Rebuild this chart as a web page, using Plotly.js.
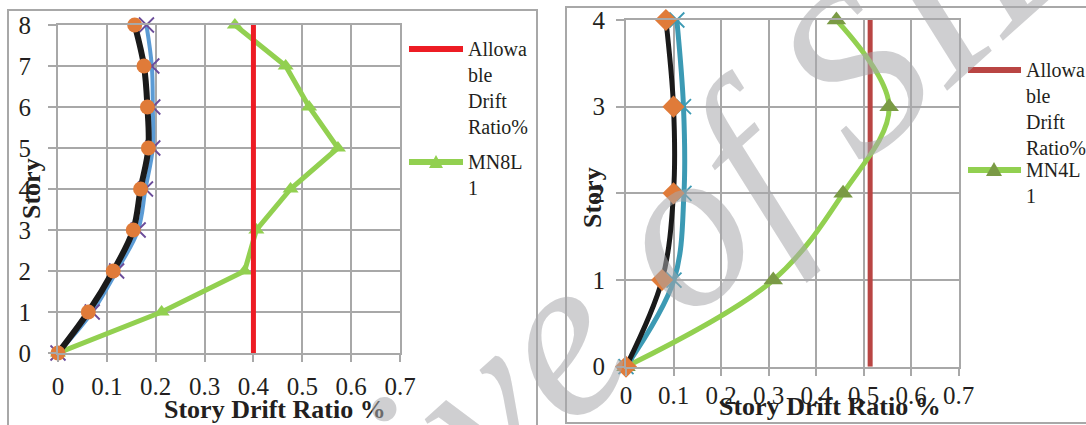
<!DOCTYPE html>
<html><head><meta charset="utf-8">
<script src="https://cdn.plot.ly/plotly-3.0.1.min.js"></script>
<style>html,body{margin:0;padding:0;background:#fff;} #chart{width:1086px;height:425px;}</style>
</head><body><div id="chart"></div>
<script>
// ---- data: 8-storey model (left) ----
const stories8 = [0, 1, 2, 3, 4, 5, 6, 7, 8];
const mn8Black = [0, 0.062, 0.113, 0.154, 0.169, 0.185, 0.183, 0.176, 0.157];
const mn8Blue  = [0, 0.070, 0.120, 0.164, 0.179, 0.194, 0.194, 0.192, 0.181];
const mn8L1    = [0, 0.212, 0.382, 0.406, 0.476, 0.573, 0.514, 0.466, 0.362];
const allow8   = 0.4;
// ---- data: 4-storey model (right) ----
const stories4 = [0, 1, 2, 3, 4];
const mn4Black = [0, 0.076, 0.100, 0.100, 0.084];
const mn4Teal  = [0, 0.101, 0.122, 0.121, 0.107];
const mn4L1    = [0, 0.310, 0.457, 0.554, 0.443];
const allow4   = 0.514;
// ---- tick labels ----
const xTicks = [0, 0.1, 0.2, 0.3, 0.4, 0.5, 0.6, 0.7];
const xTickText = ['0', '0.1', '0.2', '0.3', '0.4', '0.5', '0.6', '0.7'];
const yTicks8 = [0, 1, 2, 3, 4, 5, 6, 7, 8];
const yTicks4 = [0, 1, 2, 3, 4];
const legendAllow = 'Allowa<br>ble<br>Drift<br>Ratio%';
const legend8 = 'MN8L<br>1';
const legend4 = 'MN4L<br>1';
const xTitle = 'Story Drift Ratio %';
const yTitle = 'Story';
const watermark = 'Archive of SID';

const W = 1086, H = 425;
const px = v => v / W;
const py = v => 1 - v / H;

const GRID = '#A8A8A8';
const SERIF = 'Liberation Serif, Times New Roman, serif';
const TXT = '#231F20';

const traces = [
  // left
  {x: mn8L1, y: stories8, xaxis: 'x', yaxis: 'y', mode: 'lines+markers', name: 'MN8L1',
   line: {color: '#92D050', width: 5}, marker: {symbol: 'triangle-up', size: 14, color: '#92D050'},
   cliponaxis: false, showlegend: false},
  {x: [allow8, allow8], y: [stories8[0], stories8[stories8.length - 1]], xaxis: 'x', yaxis: 'y', mode: 'lines',
   name: 'Allowable Drift Ratio%', line: {color: '#ED1C24', width: 5}, showlegend: false},
  {x: mn8Blue, y: stories8, xaxis: 'x', yaxis: 'y', mode: 'lines+markers', name: 'Series B',
   line: {color: '#5B9BD5', width: 4, shape: 'spline', smoothing: 1},
   marker: {symbol: 'x-thin', size: 15, line: {color: '#6B4C9A', width: 1.8}},
   cliponaxis: false, showlegend: false},
  {x: mn8Black, y: stories8, xaxis: 'x', yaxis: 'y', mode: 'lines+markers', name: 'Series A',
   line: {color: '#1A1A1A', width: 6, shape: 'spline', smoothing: 1},
   marker: {symbol: 'circle', size: 15, color: '#E07B39'},
   cliponaxis: false, showlegend: false},
  // right
  {x: [allow4, allow4], y: [stories4[0], stories4[stories4.length - 1]], xaxis: 'x2', yaxis: 'y2', mode: 'lines',
   name: 'Allowable Drift Ratio%', line: {color: '#B94543', width: 5}, showlegend: false},
  {x: mn4L1, y: stories4, xaxis: 'x2', yaxis: 'y2', mode: 'lines+markers', name: 'MN4L1',
   line: {color: '#92D050', width: 5, shape: 'spline', smoothing: 1},
   marker: {symbol: 'triangle-up', size: 17, color: '#7A9A45'},
   cliponaxis: false, showlegend: false},
  {x: mn4Teal, y: stories4, xaxis: 'x2', yaxis: 'y2', mode: 'lines+markers', name: 'Series D',
   line: {color: '#3C9AB4', width: 5, shape: 'spline', smoothing: 1},
   marker: {symbol: 'x-thin', size: 15, line: {color: '#3C9AB4', width: 1.8}},
   cliponaxis: false, showlegend: false},
  {x: mn4Black, y: stories4, xaxis: 'x2', yaxis: 'y2', mode: 'lines+markers', name: 'Series C',
   line: {color: '#1A1A1A', width: 5, shape: 'spline', smoothing: 1},
   marker: {symbol: 'diamond', size: 17, color: '#E07B39'},
   cliponaxis: false, showlegend: false}
];

function xAxis(domain, anchor, standoff) {
  return {domain: domain, anchor: anchor, range: [0, 0.7], tickvals: xTicks, ticktext: xTickText,
    showgrid: true, gridcolor: GRID, gridwidth: 2, showline: true, mirror: true, linecolor: GRID, linewidth: 2,
    ticks: 'outside', ticklen: 7, tickwidth: 2, tickcolor: GRID, zeroline: false, fixedrange: true, tickangle: 0,
    ticklabelstandoff: standoff, tickfont: {family: SERIF, size: 25, color: TXT}};
}
function yAxis(domain, anchor, vals, max, standoff) {
  return {domain: domain, anchor: anchor, range: [0, max], tickvals: vals, ticktext: vals.map(String),
    showgrid: true, gridcolor: GRID, gridwidth: 2, showline: true, mirror: true, linecolor: GRID, linewidth: 2,
    ticks: 'outside', ticklen: 8, tickwidth: 2, tickcolor: GRID, zeroline: false, fixedrange: true,
    ticklabelstandoff: standoff, tickfont: {family: SERIF, size: 25, color: TXT}};
}

const shapes = [
  // outer chart boxes
  {type: 'rect', xref: 'paper', yref: 'paper', x0: px(8), x1: px(537), y0: py(10), y1: py(440),
   line: {color: GRID, width: 2}, layer: 'below'},
  {type: 'rect', xref: 'paper', yref: 'paper', x0: px(566), x1: px(1100), y0: py(7), y1: py(423),
   line: {color: GRID, width: 2}, layer: 'below'},
  // legend samples left
  {type: 'line', xref: 'paper', yref: 'paper', x0: px(409), x1: px(463), y0: py(49), y1: py(49),
   line: {color: '#ED1C24', width: 6}},
  {type: 'line', xref: 'paper', yref: 'paper', x0: px(409), x1: px(463), y0: py(162), y1: py(162),
   line: {color: '#92D050', width: 6}},
  {type: 'path', xref: 'paper', yref: 'paper', xsizemode: 'pixel', ysizemode: 'pixel',
   xanchor: px(436), yanchor: py(162), path: 'M-7,-6 L7,-6 L0,7 Z',
   fillcolor: '#92D050', line: {width: 0}},
  // legend samples right
  {type: 'line', xref: 'paper', yref: 'paper', x0: px(968), x1: px(1021), y0: py(70), y1: py(70),
   line: {color: '#B94543', width: 6}},
  {type: 'line', xref: 'paper', yref: 'paper', x0: px(968), x1: px(1021), y0: py(170), y1: py(170),
   line: {color: '#92D050', width: 6}},
  {type: 'path', xref: 'paper', yref: 'paper', xsizemode: 'pixel', ysizemode: 'pixel',
   xanchor: px(994), yanchor: py(170), path: 'M-8,-6 L8,-6 L0,8 Z',
   fillcolor: '#7A9A45', line: {width: 0}}
];

const annFont = {family: SERIF, size: 20, color: TXT};
const titleFont = {family: SERIF, size: 26, color: TXT, weight: 'bold'};
const annotations = [
  {xref: 'paper', yref: 'paper', x: px(466), y: py(36), xanchor: 'left', yanchor: 'top', align: 'left',
   text: legendAllow, showarrow: false, font: annFont},
  {xref: 'paper', yref: 'paper', x: px(466), y: py(149), xanchor: 'left', yanchor: 'top', align: 'left',
   text: legend8, showarrow: false, font: annFont},
  {xref: 'paper', yref: 'paper', x: px(1024), y: py(57), xanchor: 'left', yanchor: 'top', align: 'left',
   text: legendAllow, showarrow: false, font: annFont},
  {xref: 'paper', yref: 'paper', x: px(1024), y: py(157), xanchor: 'left', yanchor: 'top', align: 'left',
   text: legend4, showarrow: false, font: annFont},
  {xref: 'paper', yref: 'paper', x: px(275), y: py(409), xanchor: 'center', yanchor: 'middle',
   text: '<b>' + xTitle + '</b>', showarrow: false, font: titleFont},
  {xref: 'paper', yref: 'paper', x: px(830), y: py(406), xanchor: 'center', yanchor: 'middle',
   text: '<b>' + xTitle + '</b>', showarrow: false, font: titleFont},
  {xref: 'paper', yref: 'paper', x: px(31), y: py(189), xanchor: 'center', yanchor: 'middle', textangle: -90,
   text: '<b>' + yTitle + '</b>', showarrow: false, font: titleFont},
  {xref: 'paper', yref: 'paper', x: px(593), y: py(198), xanchor: 'center', yanchor: 'middle', textangle: -90,
   text: '<b>' + yTitle + '</b>', showarrow: false, font: titleFont},
  // watermark
  {xref: 'paper', yref: 'paper', x: px(566), y: py(329), xanchor: 'center', yanchor: 'middle', textangle: -42,
   text: '<i>' + watermark + '</i>', showarrow: false,
   font: {family: SERIF, size: 230, color: 'rgba(168,168,172,0.55)'}}
];

const layout = {
  width: W, height: H, autosize: false, margin: {l: 0, r: 0, t: 0, b: 0, pad: 0},
  paper_bgcolor: '#FFFFFF', plot_bgcolor: '#FFFFFF', showlegend: false,
  xaxis: xAxis([px(58), px(400)], 'y', 3),
  yaxis: yAxis([py(353), py(25)], 'x', yTicks8, 8, 12),
  xaxis2: xAxis([px(626), px(958.5)], 'y2', -2),
  yaxis2: yAxis([py(366.7), py(20)], 'x2', yTicks4, 4, 6),
  shapes: shapes, annotations: annotations
};

Plotly.newPlot('chart', traces, layout, {staticPlot: true, displayModeBar: false});
</script>
</body></html>
